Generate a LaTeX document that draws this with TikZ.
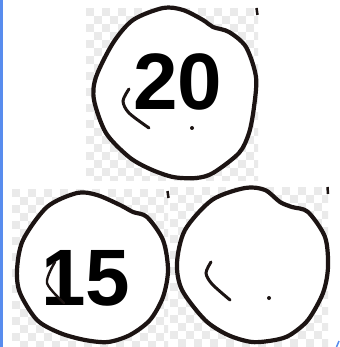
\documentclass[tikz,border=0pt]{standalone}
\usepackage{fontspec}
\setmainfont{Liberation Sans}
\definecolor{ink}{RGB}{28,20,19}
\definecolor{chk}{RGB}{234,234,234}
\definecolor{barblue}{RGB}{88,140,238}
\newcommand\checkerbox[4]{%
  \begin{scope}
    \clip (#1,#2) rectangle (#3,#4);
    \foreach \i in {0,...,22}{\foreach \j in {0,...,22}{%
      \pgfmathtruncatemacro\chkpar{mod(\i+\j,2)}%
      \ifnum\chkpar=0 \fill[chk] ({#1+8*\i},{#2+8*\j}) rectangle ++(8,8);\fi}}
  \end{scope}}
\begin{document}
\begin{tikzpicture}[x=1pt,y=-1pt,
  outline/.style={draw=ink,line width=4.2pt,fill=white,line join=round},
  handmark/.style={draw=ink,line width=3pt,line cap=round},
  num/.style={font=\bfseries\fontsize{80}{80}\selectfont,inner sep=0pt,anchor=base}]
\useasboundingbox (0,0) rectangle (339,347);
\fill[white] (0,0) rectangle (339,347);
\fill[barblue] (0,0) rectangle (2.5,347);
\checkerbox{86}{8}{258}{180}
\checkerbox{12}{189}{168}{347}
\checkerbox{170}{187}{328}{347}
% top circle
\draw[outline] plot[smooth cycle] coordinates {(163,8) (183,10) (203,20) (213,27) (229,32) (246,47) (256,77) (254,107) (249,133) (239,153) (213,173) (196,178) (173,177) (150,169) (129,157) (106,133) (94,100) (96,77) (113,43) (133,20)};
% bottom-left circle
\draw[outline] plot[smooth cycle] coordinates {(77,193) (97,195) (120,205) (133,212) (147,217) (163,240) (168,270) (163,297) (150,320) (130,335) (108,342) (85,340) (60,333) (37,320) (20,293) (17,270) (23,240) (47,207)};
% bottom-right circle
\draw[outline] plot[smooth cycle] coordinates {(245,188) (265,190) (280,202) (292,207) (308,212) (325,237) (328,267) (323,293) (308,320) (290,335) (275,340) (252,342) (228,335) (205,320) (182,290) (177,263) (185,230) (212,200)};
% marks
\draw[handmark] plot[smooth] coordinates {(129,89) (123,101) (129,113) (149,128)};
\fill[ink] (192,128) circle (2);
\draw[handmark] plot[smooth] coordinates {(211,262) (206,273) (212,284) (230,300)};
\fill[ink] (269,298) circle (2);
\node[num] (n20) at (178,110) {20};
\node[num] (n15) at (86,305) {15};
\draw[handmark,line width=2.4pt] plot[smooth] coordinates {(55,262) (47,283) (64,303)};
% clipped stroke ends at box corners
\draw[ink,line width=2.5pt] (256.5,8) -- (257.5,15);
\draw[ink,line width=2.5pt] (167.5,191) -- (168.5,198);
\draw[ink,line width=2.5pt] (327.5,187) -- (328,194);
\draw[barblue,line width=1.5pt] (336.5,347) -- (339,341);
\end{tikzpicture}
\end{document}
